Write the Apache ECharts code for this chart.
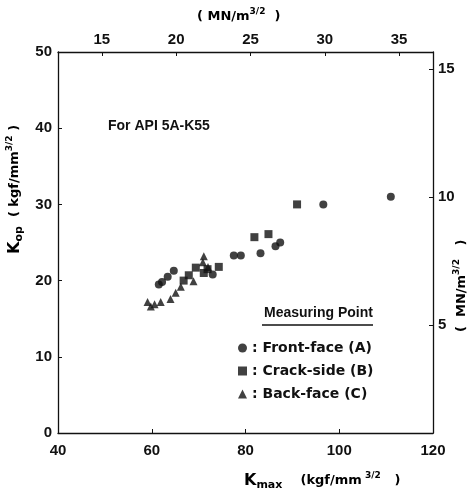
<!DOCTYPE html>
<html>
<head>
<meta charset="utf-8">
<script src="https://cdn.jsdelivr.net/npm/echarts@6/dist/echarts.min.js"></script>
<style>
  html, body { margin: 0; padding: 0; background: #fff; }
  #main { width: 474px; height: 494px; }
</style>
</head>
<body>
<div id="main"></div>
<script>
// Kmax, Kop pairs (kgf/mm^3/2)
const frontFace = [
  [61.5, 19.5], [62.2, 19.8], [63.4, 20.5], [64.7, 21.3], [73.0, 20.8],
  [77.5, 23.3], [79.0, 23.3], [83.2, 23.6], [86.4, 24.5], [87.4, 25.0],
  [96.6, 30.0], [111.0, 31.0],
];
const crackSide = [
  [66.8, 20.0], [67.9, 20.7], [69.4, 21.7], [71.1, 21.0], [71.9, 21.5],
  [74.3, 21.8], [81.9, 25.7], [84.9, 26.1], [91.0, 30.0],
];
const backFace = [
  [59.1, 17.2], [59.8, 16.6], [60.6, 16.9], [61.9, 17.2], [64.0, 17.6],
  [65.1, 18.4], [66.2, 19.2], [68.9, 19.9], [70.9, 22.4], [71.1, 23.2],
  [72.0, 21.8],
];
const seriesNames = [": Front-face (A)", ": Crack-side (B)", ": Back-face (C)"];
const topTicks = [15, 20, 25, 30, 35]; // MN/m^3/2
const rightTicks = [5, 10, 15];

const chart = echarts.init(document.getElementById("main"));
const font = "Liberation Sans";
const wide = "DejaVu Sans";
const black = "#111";

const lbl = { color: black, fontFamily: font, fontWeight: "bold", fontSize: 15 };
const line = { show: true, lineStyle: { color: black, width: 1.3 } };
const tick = { show: true, inside: true, length: 4, lineStyle: { color: black } };

const rich = {
  n: { fontFamily: wide, fontWeight: "bold", fontSize: 13, color: black, lineHeight: 20 },
  k: { fontFamily: wide, fontWeight: "bold", fontSize: 16, color: black, lineHeight: 20 },
  sub: { fontFamily: wide, fontWeight: "bold", fontSize: 11, color: black, lineHeight: 20, verticalAlign: "bottom" },
  sup: { fontFamily: wide, fontWeight: "bold", fontSize: 9, color: black, lineHeight: 20, verticalAlign: "top" },
};

const option = {
  backgroundColor: "#fff",
  animation: false,
  grid: { left: 58, right: 41, top: 52, bottom: 61 },
  xAxis: [
    {
      type: "value", position: "bottom", min: 40, max: 120, interval: 20,
      axisLine: line, axisTick: tick, splitLine: { show: false },
      axisLabel: Object.assign({ margin: 10 }, lbl),
    },
    {
      type: "value", position: "top", min: 12.05, max: 37.28,
      axisLine: line, splitLine: { show: false },
      axisTick: Object.assign({ customValues: topTicks }, tick),
      axisLabel: Object.assign({ margin: 5, customValues: topTicks }, lbl),
    },
  ],
  yAxis: [
    {
      type: "value", position: "left", min: 0, max: 50, interval: 10,
      axisLine: line, axisTick: tick, splitLine: { show: false },
      axisLabel: Object.assign({ margin: 6 }, lbl),
    },
    {
      type: "value", position: "right", min: 0.78, max: 15.66,
      axisLine: line, splitLine: { show: false },
      axisTick: Object.assign({ customValues: rightTicks }, tick),
      axisLabel: Object.assign({ margin: 5, customValues: rightTicks }, lbl),
    },
  ],
  legend: {
    orient: "vertical", left: 233, top: 336, itemWidth: 9, itemHeight: 9, itemGap: 9,
    textStyle: { color: black, fontFamily: wide, fontWeight: "bold", fontSize: 14 },
    data: [
      { name: seriesNames[0], icon: "circle" },
      { name: seriesNames[1], icon: "rect" },
      { name: seriesNames[2], icon: "triangle" },
    ],
  },
  series: [
    { name: seriesNames[0], type: "scatter", symbol: "circle", symbolSize: 8, data: frontFace, itemStyle: { color: black } },
    { name: seriesNames[1], type: "scatter", symbol: "rect", symbolSize: 8, data: crackSide, itemStyle: { color: black } },
    { name: seriesNames[2], type: "scatter", symbol: "triangle", symbolSize: 8, data: backFace, itemStyle: { color: black } },
  ],
  graphic: [
    {
      type: "text", left: 197, top: 7,
      style: { text: "{n|( MN/m}{sup|3/2}{n|  )}", rich: rich },
    },
    {
      type: "text", left: 108, top: 119,
      style: { text: "For API 5A-K55", fill: black, font: "bold 14px " + font },
    },
    {
      type: "text", left: 244, top: 471,
      style: { text: "{k|K}{sub|max}{n|    (kgf/mm}{sup| 3/2}{n|   )}", rich: rich },
    },
    {
      type: "text", x: 5, y: 254, rotation: Math.PI / 2,
      style: { text: "{k|K}{sub|op}{n|  ( kgf/mm}{sup|3/2}{n| )}", rich: rich },
    },
    {
      type: "text", x: 452, y: 332, rotation: Math.PI / 2,
      style: { text: "{n|(  MN/m}{sup|3/2}{n|   )}", rich: rich },
    },
    {
      type: "text", left: 264, top: 306,
      style: { text: "Measuring Point", fill: black, font: "bold 14px " + font },
    },
    {
      type: "line", shape: { x1: 262, y1: 325, x2: 373, y2: 325 },
      style: { stroke: black, lineWidth: 1.3 },
    },
  ],
};

chart.setOption(option);
</script>
</body>
</html>
